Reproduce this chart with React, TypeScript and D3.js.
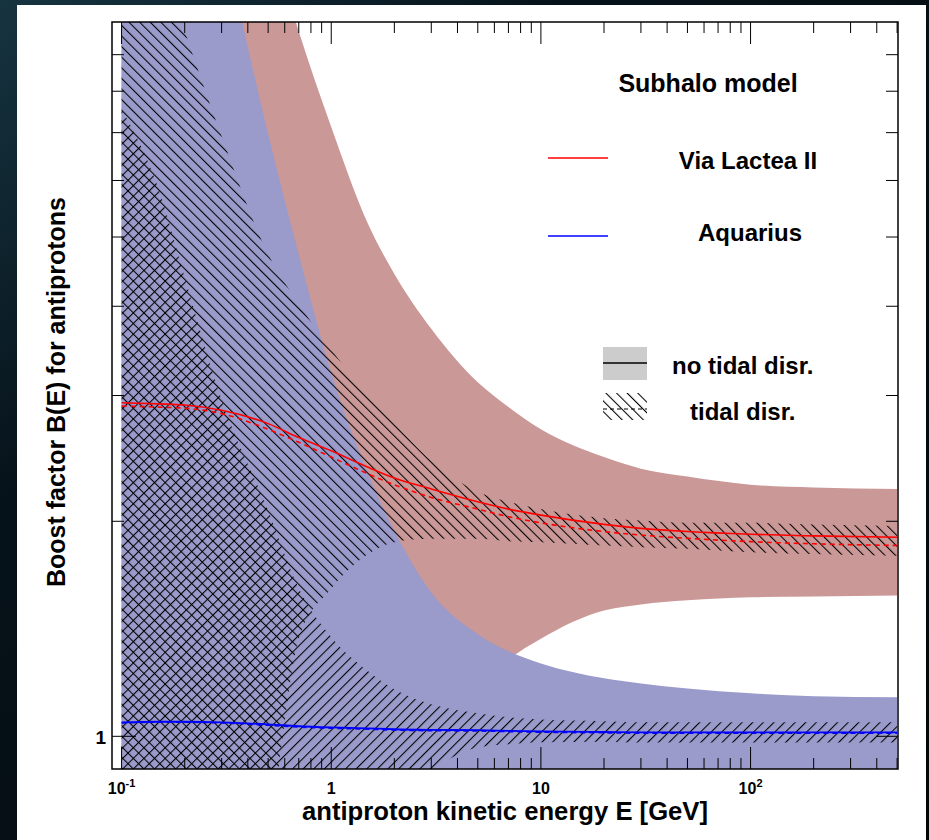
import * as React from 'react';
import * as d3 from 'd3';

const energies = [0.1, 0.15, 0.2, 0.3, 0.5, 0.7, 1, 1.5, 2, 3, 5, 7, 10, 20, 30, 50, 100, 200, 500];

// Via Lactea II, no tidal disruption (red band + solid line)
const vl2Upper = [60, 45, 35, 22, 13.5, 9.7, 7.13, 5.21, 4.44, 3.72, 3.13, 2.89, 2.69, 2.46, 2.37, 2.31, 2.25, 2.23, 2.22];
const vl2Lower = [0.3, 0.35, 0.4, 0.5, 0.6, 0.7, 0.78, 0.86, 0.9, 0.99, 1.16, 1.28, 1.37, 1.5, 1.53, 1.55, 1.565, 1.57, 1.575];
const vl2Line = [2.93, 2.92, 2.91, 2.86, 2.74, 2.62, 2.51, 2.38, 2.3, 2.22, 2.13, 2.08, 2.04, 1.98, 1.955, 1.935, 1.918, 1.908, 1.9];

// Via Lactea II, tidal disruption (\\\ hatch + dashed line)
const vl2TidalUpper = [16, 12.5, 9.71, 6.92, 4.73, 4.03, 3.48, 2.99, 2.74, 2.43, 2.2, 2.13, 2.08, 2.02, 2.005, 1.99, 1.99, 1.98, 1.97];
const vl2TidalLower = [0.4, 0.45, 0.5, 0.6, 0.75, 1.37, 1.61, 1.8, 1.87, 1.89, 1.89, 1.875, 1.87, 1.85, 1.84, 1.83, 1.81, 1.8, 1.79];
const vl2TidalLine = [2.9, 2.89, 2.88, 2.83, 2.69, 2.58, 2.46, 2.33, 2.25, 2.16, 2.08, 2.03, 1.99, 1.935, 1.913, 1.893, 1.873, 1.86, 1.85];

// Aquarius, no tidal disruption (blue band + solid line)
const aqUpper = [50, 35, 25, 13.6, 6.97, 4.73, 3.23, 2.33, 1.94, 1.59, 1.39, 1.315, 1.265, 1.206, 1.186, 1.167, 1.149, 1.138, 1.134];
const aqLower = [0.3, 0.35, 0.4, 0.45, 0.5, 0.55, 0.6, 0.65, 0.7, 0.75, 0.78, 0.8, 0.82, 0.83, 0.84, 0.85, 0.85, 0.85, 0.85];
const aqLine = [1.046, 1.048, 1.048, 1.046, 1.039, 1.033, 1.029, 1.026, 1.023, 1.021, 1.02, 1.018, 1.016, 1.014, 1.013, 1.013, 1.013, 1.013, 1.013];

// Aquarius, tidal disruption (/// hatch + dashed line)
const aqTidalUpper = [7.55, 5.84, 4.39, 2.96, 2.07, 1.61, 1.377, 1.233, 1.164, 1.109, 1.077, 1.063, 1.056, 1.05, 1.046, 1.046, 1.046, 1.046, 1.046];
const aqTidalLower = [0.5, 0.52, 0.55, 0.6, 0.65, 0.7, 0.75, 0.8, 0.84, 0.9, 0.965, 0.975, 0.981, 0.983, 0.98, 0.98, 0.98, 0.98, 0.98];
const aqTidalLine = [1.044, 1.046, 1.046, 1.044, 1.036, 1.03, 1.026, 1.023, 1.02, 1.018, 1.017, 1.015, 1.013, 1.011, 1.01, 1.01, 1.01, 1.01, 1.01];

// axis ticks
const xMajor = [0.1, 1, 10, 100];
const xMinor = [0.2, 0.3, 0.4, 0.5, 0.6, 0.7, 0.8, 0.9, 2, 3, 4, 5, 6, 7, 8, 9, 20, 30, 40, 50, 60, 70, 80, 90, 200, 300, 400, 500];
const xLabels = [
  { v: 0.1, base: '10', sup: '-1' },
  { v: 1, base: '1', sup: '' },
  { v: 10, base: '10', sup: '' },
  { v: 100, base: '10', sup: '2' },
];
const yMajor = [1];
const yMinor = [2, 3, 4, 5, 6, 7, 8, 9];

const W = 929;
const H = 840;
const frame = { left: 112, right: 898, top: 22, bottom: 769 };

const x = d3.scaleLog().domain([0.09, 505]).range([frame.left, frame.right]);
const y = d3.scaleLog().domain([0.9, 10]).range([frame.bottom, frame.top]);

const FONT = "'Liberation Sans', Arial, Helvetica, sans-serif";
const HATCH = 7.5;

function band(lo: number[], hi: number[]): string {
  const a = d3
    .area<number>()
    .x((d) => x(d))
    .y0((_, i) => y(lo[i]))
    .y1((_, i) => y(hi[i]))
    .curve(d3.curveMonotoneX);
  return a(energies) || '';
}

function curve(vals: number[]): string {
  const l = d3
    .line<number>()
    .x((d) => x(d))
    .y((_, i) => y(vals[i]))
    .curve(d3.curveMonotoneX);
  return l(energies) || '';
}

export default function App() {
  return (
    <svg
      width={W}
      height={H}
      viewBox={`0 0 ${W} ${H}`}
      style={{ position: 'absolute', left: 0, top: 0, display: 'block' }}
    >
      <defs>
        <linearGradient id="space" x1="0" y1="0" x2="1" y2="1">
          <stop offset="0" stopColor="#163440" />
          <stop offset="0.3" stopColor="#06121a" />
          <stop offset="1" stopColor="#020608" />
        </linearGradient>
        <pattern id="hatchBack" width={HATCH} height={HATCH} patternUnits="userSpaceOnUse" patternTransform="rotate(-45)">
          <line x1="0.5" y1="-1" x2="0.5" y2={HATCH + 1} stroke="#000" strokeWidth="1.1" />
        </pattern>
        <pattern id="hatchFwd" width={HATCH} height={HATCH} patternUnits="userSpaceOnUse" patternTransform="rotate(45)">
          <line x1="0.5" y1="-1" x2="0.5" y2={HATCH + 1} stroke="#000" strokeWidth="1.1" />
        </pattern>
        <clipPath id="plotClip">
          <rect x={frame.left} y={frame.top} width={frame.right - frame.left} height={frame.bottom - frame.top} />
        </clipPath>
        <clipPath id="legClip">
          <rect x={603} y={393} width={44} height={27} />
        </clipPath>
      </defs>

      {/* backdrop + white page */}
      <rect x={0} y={0} width={W} height={H} fill="url(#space)" />
      <rect x={17} y={5} width={909} height={H - 5} fill="#ffffff" />

      <g clipPath="url(#plotClip)">
        {/* VL2 band, then Aquarius on top */}
        <path d={band(vl2Lower, vl2Upper)} fill="#cb9898" />
        <path d={band(aqLower, aqUpper)} fill="#9a9acb" />
        {/* tidal disruption hatches */}
        <path d={band(vl2TidalLower, vl2TidalUpper)} fill="url(#hatchBack)" />
        <path d={band(aqTidalLower, aqTidalUpper)} fill="url(#hatchFwd)" />
        {/* central curves */}
        <path d={curve(vl2Line)} fill="none" stroke="#ff0000" strokeWidth={1.6} />
        <path d={curve(vl2TidalLine)} fill="none" stroke="#ff0000" strokeWidth={1.6} strokeDasharray="5,4" />
        <path d={curve(aqLine)} fill="none" stroke="#0000ff" strokeWidth={1.8} />
        <path d={curve(aqTidalLine)} fill="none" stroke="#0000ff" strokeWidth={1.4} strokeDasharray="5,4" />
      </g>

      {/* frame */}
      <rect
        x={frame.left}
        y={frame.top}
        width={frame.right - frame.left}
        height={frame.bottom - frame.top}
        fill="none"
        stroke="#000"
        strokeWidth={1.5}
      />

      {/* x ticks, bottom and top */}
      {xMajor.map((v) => (
        <g key={`xM${v}`} stroke="#000" strokeWidth={1}>
          <line x1={x(v)} x2={x(v)} y1={frame.bottom} y2={frame.bottom - 22} />
          <line x1={x(v)} x2={x(v)} y1={frame.top} y2={frame.top + 22} />
        </g>
      ))}
      {xMinor.map((v) => (
        <g key={`xm${v}`} stroke="#000" strokeWidth={1}>
          <line x1={x(v)} x2={x(v)} y1={frame.bottom} y2={frame.bottom - 11} />
          <line x1={x(v)} x2={x(v)} y1={frame.top} y2={frame.top + 11} />
        </g>
      ))}

      {/* y ticks, left and right */}
      {yMajor.map((v) => (
        <g key={`yM${v}`} stroke="#000" strokeWidth={1}>
          <line x1={frame.left} x2={frame.left + 24} y1={y(v)} y2={y(v)} />
          <line x1={frame.right} x2={frame.right - 22} y1={y(v)} y2={y(v)} />
        </g>
      ))}
      {yMinor.map((v) => (
        <g key={`ym${v}`} stroke="#000" strokeWidth={1}>
          <line x1={frame.left} x2={frame.left + 12} y1={y(v)} y2={y(v)} />
          <line x1={frame.right} x2={frame.right - 12} y1={y(v)} y2={y(v)} />
        </g>
      ))}

      {/* tick labels */}
      {xLabels.map((t) => (
        <text
          key={`xl${t.v}`}
          x={x(t.v)}
          y={794}
          textAnchor="middle"
          fontFamily={FONT}
          fontWeight="bold"
          fontSize={16}
          fill="#000"
        >
          {t.base}
          {t.sup ? (
            <tspan dy={-7} fontSize={11}>
              {t.sup}
            </tspan>
          ) : null}
        </text>
      ))}
      <text x={106} y={744} textAnchor="end" fontFamily={FONT} fontWeight="bold" fontSize={19} fill="#000">
        1
      </text>

      {/* axis titles */}
      <text
        x={505}
        y={820}
        textAnchor="middle"
        fontFamily={FONT}
        fontWeight="bold"
        fontSize={25}
        textLength={406}
        lengthAdjust="spacingAndGlyphs"
        fill="#000"
      >
        antiproton kinetic energy E [GeV]
      </text>
      <text
        transform="translate(65,392) rotate(-90)"
        textAnchor="middle"
        fontFamily={FONT}
        fontWeight="bold"
        fontSize={25}
        textLength={390}
        lengthAdjust="spacingAndGlyphs"
        fill="#000"
      >
        Boost factor B(E) for antiprotons
      </text>

      {/* legend */}
      <text x={708} y={92} textAnchor="middle" fontFamily={FONT} fontWeight="bold" fontSize={25} fill="#000">
        Subhalo model
      </text>
      <line x1={548} x2={608} y1={158} y2={158} stroke="#ff0000" strokeWidth={1.5} />
      <text x={748} y={169} textAnchor="middle" fontFamily={FONT} fontWeight="bold" fontSize={24} fill="#000">
        Via Lactea II
      </text>
      <line x1={548} x2={608} y1={236} y2={236} stroke="#0000ff" strokeWidth={1.5} />
      <text x={750} y={241} textAnchor="middle" fontFamily={FONT} fontWeight="bold" fontSize={24} fill="#000">
        Aquarius
      </text>

      <rect x={603} y={347} width={44} height={33} fill="#cccccc" />
      <line x1={603} x2={647} y1={363} y2={363} stroke="#000" strokeWidth={1.5} />
      <text x={672} y={374} fontFamily={FONT} fontWeight="bold" fontSize={24} fill="#000">
        no tidal disr.
      </text>

      <g clipPath="url(#legClip)">
        <rect x={603} y={393} width={44} height={27} fill="url(#hatchBack)" />
      </g>
      <line x1={603} x2={647} y1={409} y2={409} stroke="#000" strokeWidth={1.2} strokeDasharray="4,3" />
      <text x={690} y={420} fontFamily={FONT} fontWeight="bold" fontSize={24} fill="#000">
        tidal disr.
      </text>
    </svg>
  );
}
